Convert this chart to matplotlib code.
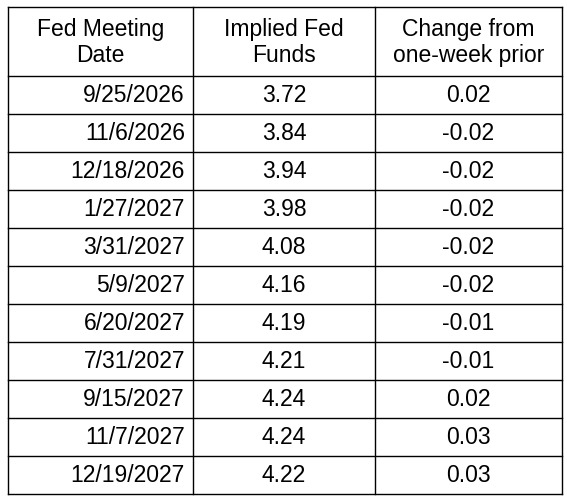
import matplotlib.pyplot as plt

dates = ["9/25/2026", "11/6/2026", "12/18/2026", "1/27/2027", "3/31/2027", "5/9/2027",
         "6/20/2027", "7/31/2027", "9/15/2027", "11/7/2027", "12/19/2027"]
implied = ["3.72", "3.84", "3.94", "3.98", "4.08", "4.16", "4.19", "4.21", "4.24", "4.24", "4.22"]
change = ["0.02", "-0.02", "-0.02", "-0.02", "-0.02", "-0.02", "-0.01", "-0.01", "0.02", "0.03", "0.03"]
headers = ["Fed Meeting\nDate", "Implied Fed\nFunds", "Change from\none-week prior"]

W, H = 567, 502
fig = plt.figure(figsize=(W / 100, H / 100), dpi=100)
ax = fig.add_axes([0, 0, 1, 1])
ax.set_xlim(0, W)
ax.set_ylim(H, 0)
ax.axis("off")
plt.rcParams['font.family'] = ['Liberation Sans', 'DejaVu Sans']

xs = [8, 193, 375, 562]
top, head_bot, bot = 8, 77, 495
n = len(dates)
rh = (bot - head_bot) / n
lw = 1.0
for x in xs:
    ax.plot([x, x], [top, bot], color="black", lw=lw)
ys = [top, head_bot] + [head_bot + rh * (i + 1) for i in range(n)]
for y in ys:
    ax.plot([xs[0], xs[-1]], [y, y], color="black", lw=lw)

fs = 16.5
for j, h in enumerate(headers):
    ax.text((xs[j] + xs[j + 1]) / 2, (top + head_bot) / 2, h, ha="center", va="center",
            fontsize=fs, linespacing=1.15)
for i in range(n):
    yc = head_bot + rh * (i + 0.5)
    ax.text(xs[1] - 8, yc, dates[i], ha="right", va="center", fontsize=fs)
    ax.text((xs[1] + xs[2]) / 2, yc, implied[i], ha="center", va="center", fontsize=fs)
    ax.text((xs[2] + xs[3]) / 2, yc, change[i], ha="center", va="center", fontsize=fs)

fig.savefig("out.png", dpi=100, facecolor="white")
